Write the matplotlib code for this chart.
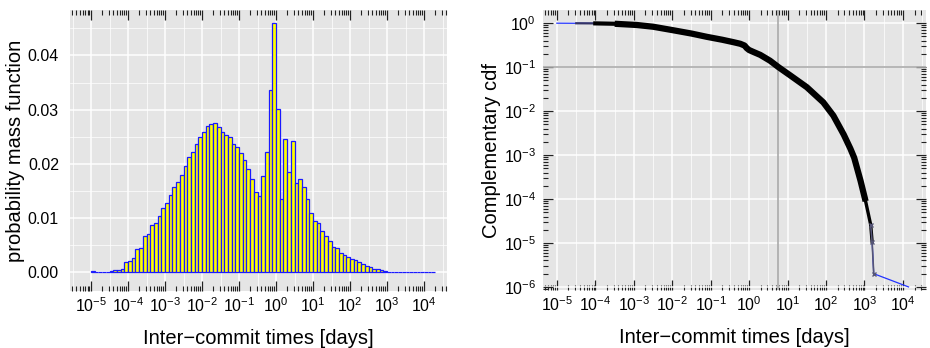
import numpy as np
import matplotlib
matplotlib.use("Agg")
import matplotlib.pyplot as plt
from matplotlib.ticker import LogLocator, MultipleLocator, NullFormatter, FixedLocator

plt.rcParams['font.family'] = ['Liberation Sans Narrow', 'Liberation Sans', 'DejaVu Sans']

# ---------------- data ----------------
# histogram: log10 bin edges start at -5, width 0.1 decade
hist_start_log = -5.0
hist_bin_log = 0.1
pmf = [0.0002, 0.00003, 0.00003, 0.0001, 0.0001, 0.0002, 0.0004, 0.0004, 0.0006, 0.0018,
       0.0020, 0.0026, 0.0043, 0.0044, 0.0066, 0.0071, 0.0087, 0.0090, 0.0104, 0.0118,
       0.0128, 0.0143, 0.0158, 0.0167, 0.0179, 0.0195, 0.0213, 0.0222, 0.0237, 0.0250,
       0.0258, 0.0270, 0.0273, 0.0276, 0.0267, 0.0259, 0.0253, 0.0249, 0.0237, 0.0231,
       0.0219, 0.0207, 0.0191, 0.0172, 0.0148, 0.0141, 0.0178, 0.0221, 0.0337, 0.0460,
       0.0302, 0.0135, 0.0245, 0.0184, 0.0242, 0.0164, 0.0171, 0.0158, 0.0134, 0.0109,
       0.0094, 0.0090, 0.0075, 0.0066, 0.0057, 0.0047, 0.0045, 0.0036, 0.0031, 0.0028,
       0.0025, 0.0022, 0.0018, 0.0015, 0.0012, 0.0010, 0.0006, 0.0005, 0.0003, 0.0002,
       0.0001, 0.00005, 0.00003, 0.00002, 0.00002, 0.00001, 0.00001, 0.00001, 0.00001, 0.00001,
       0.00001, 0.00001, 0.00001]

# complementary cdf
ccdf_t = [1e-5, 3.2e-5, 1e-4, 3.2e-4, 1.2e-3, 3.2e-3, 1.07e-2, 3.2e-2, 7.9e-2, 0.2, 0.39,
          0.59, 0.76, 0.87, 1.0, 1.32, 1.95, 3.5, 5.8, 11.7, 31.6,
          85, 155, 290, 430, 540, 790, 1070, 1450, 1580, 1740, 14000]
ccdf_p = [1.0, 0.995, 0.99, 0.97, 0.91, 0.83, 0.69, 0.58, 0.49, 0.42, 0.37,
          0.34, 0.31, 0.27, 0.245, 0.22, 0.19, 0.14, 0.10, 0.065, 0.035,
          0.0158, 0.0079, 0.0029, 0.0014, 8.7e-4, 2.6e-4, 8.9e-5, 2.6e-5, 1.07e-5, 2.0e-6, 1.0e-6]
ref_level = 0.1
ref_time = 5.8

xticks = [1e-5, 1e-4, 1e-3, 1e-2, 1e-1, 1e0, 1e1, 1e2, 1e3, 1e4]
pmf_ticks = [0.00, 0.01, 0.02, 0.03, 0.04]
ccdf_ticks = [1e-6, 1e-5, 1e-4, 1e-3, 1e-2, 1e-1, 1e0]

# ---------------- style ----------------
panel = '#E5E5E5'
W, H = 930, 348
LABEL_FS = 14.5
TICK_FS = 11.5
fig = plt.figure(figsize=(W / 100, H / 100), dpi=100)
ax1 = fig.add_axes([70 / W, (H - 291) / H, (447 - 70) / W, (291 - 10) / H])
ax2 = fig.add_axes([543 / W, (H - 290) / H, (926 - 543) / W, (290 - 10) / H])

def style_log_x(ax, lo, hi):
    ax.set_xscale('log')
    ax.set_xlim(lo, hi)
    ax.set_facecolor(panel)
    for s in ax.spines.values():
        s.set_visible(False)
    ax.xaxis.set_major_locator(FixedLocator(xticks))
    ax.xaxis.set_minor_locator(LogLocator(base=10, subs=np.arange(2, 10), numticks=50))
    ax.xaxis.set_minor_formatter(NullFormatter())
    ax.tick_params(axis='x', which='major', direction='in', length=7, width=0.9,
                   top=True, bottom=True, labelsize=TICK_FS, pad=4, color='#222222')
    ax.tick_params(axis='x', which='minor', direction='in', length=3.5, width=0.8,
                   top=True, bottom=True, color='#222222')
    ax.set_axisbelow(True)
    ax.grid(True, which='major', axis='x', color='white', lw=1.1)
    # half-decade minor grid
    for e in np.arange(-6.5, 5.0, 1.0):
        v = 10 ** e
        if lo < v < hi:
            ax.axvline(v, color='white', lw=0.5, zorder=0.5)
    ax.set_xlabel('Inter\u2212commit times [days]', fontsize=LABEL_FS, labelpad=10)

# ---------------- left: pmf histogram ----------------
nb = len(pmf)
edges = 10 ** (hist_start_log + hist_bin_log * np.arange(nb + 1))
style_log_x(ax1, 10 ** -5.57, 10 ** 4.62)
ax1.bar(edges[:-1], pmf, width=np.diff(edges), align='edge',
        color='#FFFF00', edgecolor='#1a1aff', linewidth=0.9, zorder=3)
ax1.set_ylim(-0.0035, 0.0484)
ax1.set_yticks(pmf_ticks)
ax1.set_yticklabels(['%.2f' % v for v in pmf_ticks])
ax1.yaxis.set_minor_locator(MultipleLocator(0.005))
ax1.tick_params(axis='y', which='both', length=0, labelsize=TICK_FS, pad=8)
ax1.grid(True, which='major', axis='y', color='white', lw=1.1)
ax1.grid(True, which='minor', axis='y', color='white', lw=0.5)
ax1.set_ylabel('probability mass function', fontsize=LABEL_FS, labelpad=2)

# ---------------- right: ccdf ----------------
style_log_x(ax2, 10 ** -5.36, 10 ** 4.6)
ax2.set_yscale('log')
ax2.set_ylim(10 ** -6.07, 10 ** 0.3)
ax2.yaxis.set_major_locator(FixedLocator(ccdf_ticks))
ax2.yaxis.set_minor_locator(LogLocator(base=10, subs=np.arange(2, 10), numticks=50))
ax2.yaxis.set_minor_formatter(NullFormatter())
ax2.tick_params(axis='y', which='major', direction='in', length=7, width=0.9,
                left=True, right=True, labelsize=TICK_FS, pad=5, color='#222222')
ax2.tick_params(axis='y', which='minor', direction='in', length=3.5, width=0.8,
                left=True, right=True, color='#222222')
ax2.grid(True, which='major', axis='y', color='white', lw=1.1)
ax2.axhline(ref_level, color='#ababab', lw=1.2, zorder=1)
ax2.axvline(ref_time, color='#ababab', lw=1.2, zorder=1)

t = np.array(ccdf_t)
p = np.array(ccdf_p)
ax2.plot(t, p, color='#2233ff', lw=0.9, zorder=3)
seg_a = (t >= 3.2e-5) & (t <= 3.2e-4)
ax2.plot(t[seg_a], p[seg_a], color='#333366', lw=1.6, zorder=4)
seg_b = (t >= 1e-4) & (t <= 1.2e-3)
ax2.plot(t[seg_b], p[seg_b], color='black', lw=3.0, zorder=4)
dense = (t >= 3.2e-4) & (t <= 1070)
ax2.plot(t[dense], p[dense], color='black', lw=4.5, solid_capstyle='butt', zorder=4)
tail = (t >= 790) & (t <= 1580)
ax2.plot(t[tail], p[tail], color='black', lw=2.4, zorder=4)
tail2 = (t >= 1450) & (t <= 1740)
ax2.plot(t[tail2], p[tail2], color='#555577', lw=1.2, marker='x', ms=2.5, zorder=4)
ax2.set_ylabel('Complementary cdf', fontsize=LABEL_FS, labelpad=2)

fig.savefig('out.png', dpi=100)
